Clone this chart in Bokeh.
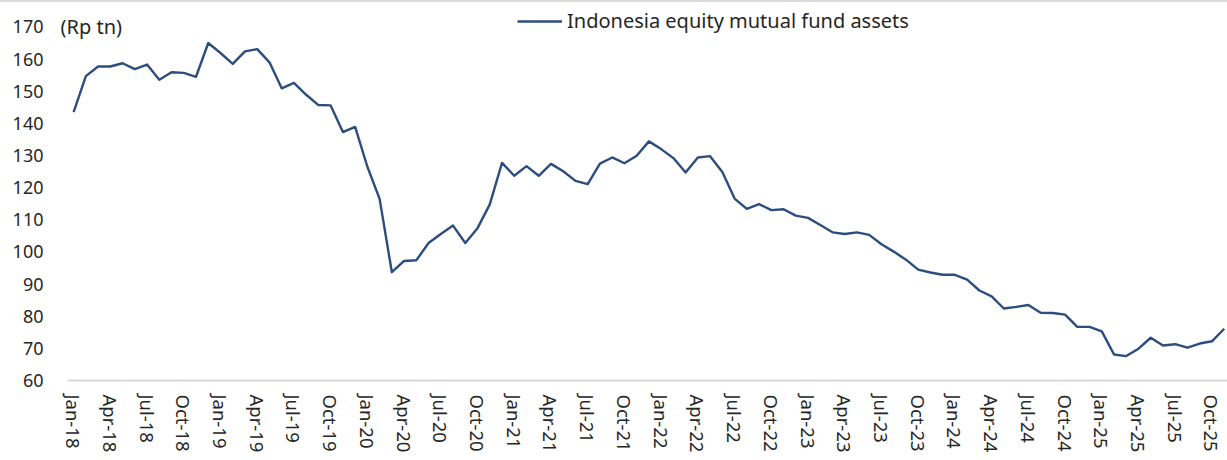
from bokeh.plotting import figure
from bokeh.models import (FixedTicker, Range1d, Legend, LegendItem, Label,
                          ColumnDataSource)
from bokeh.embed import file_html
from bokeh.resources import INLINE

# ---- data (Jan-18 .. Nov-25, monthly, Rp tn) ----
fund_assets = [
    143.5, 154.7, 157.7, 157.7, 158.7, 156.9, 158.3, 153.6, 155.9, 155.7, 154.5, 165.0,   # 2018
    161.9, 158.5, 162.4, 163.1, 159.0, 150.9, 152.6, 148.9, 145.7, 145.6, 137.3, 138.9,   # 2019
    126.5, 116.5, 93.7, 97.2, 97.4, 102.8, 105.6, 108.2, 102.8, 107.4, 114.8, 127.7,      # 2020
    123.7, 126.7, 123.7, 127.4, 125.1, 122.1, 121.1, 127.5, 129.4, 127.6, 129.9, 134.4,   # 2021
    132.0, 129.2, 124.7, 129.4, 129.8, 124.9, 116.6, 113.4, 114.9, 113.0, 113.3, 111.3,   # 2022
    110.6, 108.4, 106.1, 105.6, 106.1, 105.3, 102.4, 100.1, 97.6, 94.5, 93.6, 92.9,       # 2023
    92.9, 91.4, 88.0, 86.2, 82.4, 82.9, 83.5, 81.1, 81.0, 80.5, 76.7, 76.7,               # 2024
    75.3, 68.1, 67.6, 69.9, 73.3, 70.9, 71.3, 70.2, 71.5, 72.2, 76.1,                     # 2025
]
month_index = list(range(len(fund_assets)))

tick_positions = list(range(0, 94, 3))
tick_labels = [
    "Jan-18", "Apr-18", "Jul-18", "Oct-18", "Jan-19", "Apr-19", "Jul-19", "Oct-19",
    "Jan-20", "Apr-20", "Jul-20", "Oct-20", "Jan-21", "Apr-21", "Jul-21", "Oct-21",
    "Jan-22", "Apr-22", "Jul-22", "Oct-22", "Jan-23", "Apr-23", "Jul-23", "Oct-23",
    "Jan-24", "Apr-24", "Jul-24", "Oct-24", "Jan-25", "Apr-25", "Jul-25", "Oct-25",
]
y_ticks = list(range(60, 171, 10))
series_name = "Indonesia equity mutual fund assets"
unit_label = "(Rp tn)"

FONT = "Noto Sans"
TXT = "#262626"
LINE = "#2C4D7D"

src = ColumnDataSource(data=dict(x=month_index, y=fund_assets))

p = figure(
    frame_width=1171, frame_height=377,
    min_border_left=56, min_border_right=0, min_border_top=1, min_border_bottom=80,
    x_range=Range1d(-0.5 - 11 / 12.24, 94.27), y_range=Range1d(60, 177.3),
    output_backend="svg", toolbar_location=None,
    background_fill_color="white", border_fill_color="white",
)
p.styles = {"border-top": "2px solid #d9d9d9"}
p.outline_line_color = None
p.xgrid.visible = False
p.ygrid.visible = False

r = p.line("x", "y", source=src, line_color=LINE, line_width=2.4, line_join="round")

# x axis
xa = p.xaxis[0]
xa.bounds = (-0.5, 94.27)
xa.ticker = FixedTicker(ticks=tick_positions)
xa.major_label_overrides = {t: lab for t, lab in zip(tick_positions, tick_labels)}
xa.major_label_orientation = "vertical"
xa.axis_line_color = "#d9d9d9"
xa.axis_line_width = 2
xa.major_tick_line_color = None
xa.minor_tick_line_color = None
xa.major_tick_out = 0
xa.major_label_standoff = 14
xa.major_label_text_font = FONT
xa.major_label_text_font_size = "18.5px"
xa.major_label_text_color = TXT

# y axis
ya = p.yaxis[0]
ya.ticker = FixedTicker(ticks=y_ticks)
ya.axis_line_color = None
ya.major_tick_line_color = None
ya.minor_tick_line_color = None
ya.major_tick_out = 0
ya.major_label_standoff = 13
ya.major_label_text_font = FONT
ya.major_label_text_font_size = "18px"
ya.major_label_text_color = TXT

# unit label
p.add_layout(Label(x=4, x_units="screen", y=170, y_units="data", text=unit_label,
                   text_font=FONT, text_font_size="20px", text_color=TXT,
                   text_baseline="middle", text_align="left"))

legend = Legend(items=[LegendItem(label=series_name, renderers=[r])],
                location=(461, 346), orientation="horizontal",
                padding=0, margin=0, spacing=0,
                glyph_width=45, glyph_height=24, label_height=24, label_standoff=5,
                label_text_font=FONT, label_text_font_size="20px", label_text_color=TXT,
                border_line_color=None, background_fill_alpha=0)
p.add_layout(legend, "center")

open("out.html", "w").write(file_html(p, INLINE))
